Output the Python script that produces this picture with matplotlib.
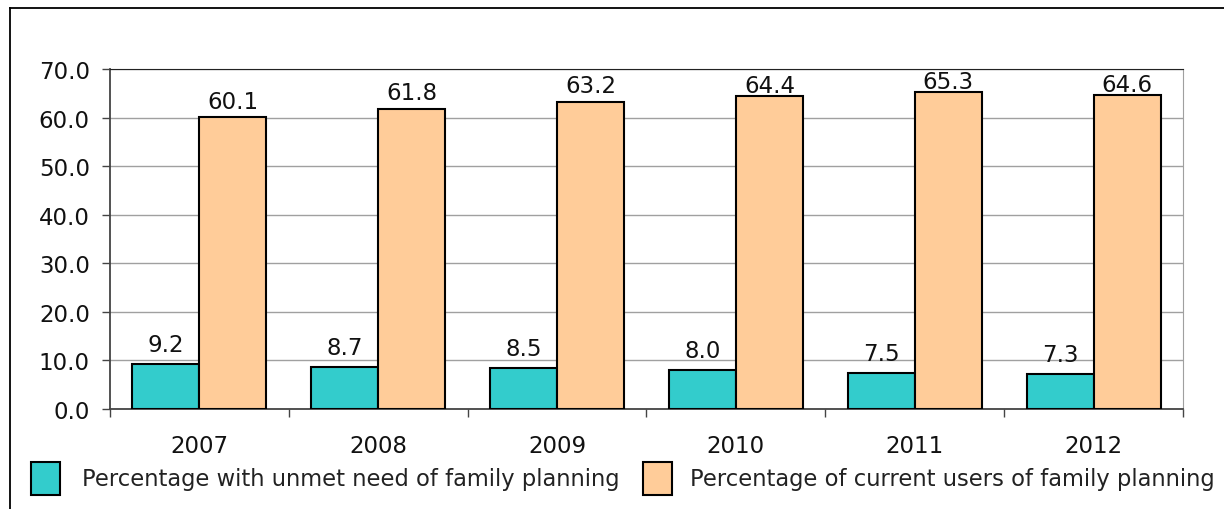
import matplotlib.pyplot as plt
import numpy as np
from matplotlib.patches import Rectangle
from matplotlib.lines import Line2D

years = ["2007", "2008", "2009", "2010", "2011", "2012"]
unmet_need = [9.2, 8.7, 8.5, 8.0, 7.5, 7.3]
current_users = [60.1, 61.8, 63.2, 64.4, 65.3, 64.6]
series_names = ["Percentage with unmet need of family planning",
                "Percentage of current users of family planning"]

teal = "#33CCCC"
peach = "#FFCC99"
num_size = 16.5
text_size = 16.3

plt.rcParams["font.family"] = ["DejaVu Sans"]

fig = plt.figure(figsize=(12.24, 5.1), dpi=100)
W, H = 1224, 510

# outer frame (only top and left edges visible in the crop)
fig.add_artist(Line2D([10 / W, 1.05], [1 - 9 / H, 1 - 9 / H], transform=fig.transFigure,
                      color="black", linewidth=1.3))
fig.add_artist(Line2D([10 / W, 10 / W], [-0.05, 1 - 9 / H], transform=fig.transFigure,
                      color="black", linewidth=1.3))

ax = fig.add_axes([110 / W, 1 - 410 / H, (1183 - 110) / W, (410 - 70) / H])

x = np.arange(len(years))
w = 0.375
ax.bar(x - w / 2, unmet_need, w, color=teal, edgecolor="black", linewidth=1.5, zorder=3)
ax.bar(x + w / 2, current_users, w, color=peach, edgecolor="black", linewidth=1.5, zorder=3)

# gaps (px) between bar top and label baseline, as placed in the original
gap_teal = 13
gap_peach = [9, 10, 10, 4, 4, 4]
for i in range(len(years)):
    ax.annotate(f"{unmet_need[i]:.1f}", (x[i] - w / 2, unmet_need[i]),
                xytext=(0, gap_teal * 0.72), textcoords="offset points",
                ha="center", va="baseline", fontsize=num_size, color="#111111")
    ax.annotate(f"{current_users[i]:.1f}", (x[i] + w / 2, current_users[i]),
                xytext=(0, gap_peach[i] * 0.72), textcoords="offset points",
                ha="center", va="baseline", fontsize=num_size, color="#111111")

ax.set_xlim(-0.5, len(years) - 0.5)
ax.set_ylim(0, 70)
ax.set_yticks(np.arange(0, 71, 10))
ax.set_yticklabels([f"{v:.1f}" for v in np.arange(0, 71, 10)], fontsize=num_size,
                   color="#111111")
ax.yaxis.grid(True, color="#a0a0a0", linewidth=1, zorder=0)

# ticks at category boundaries, labels centered
ax.set_xticks(np.arange(-0.5, len(years), 1))
ax.set_xticklabels([])
ax.set_xticks(x, minor=True)
ax.set_xticklabels(years, minor=True, fontsize=num_size, color="#111111")
ax.tick_params(axis="x", which="minor", length=0, pad=18)
ax.tick_params(axis="x", which="major", length=6, width=1, color="#444444")
ax.tick_params(axis="y", length=5.5, width=1, color="#444444", pad=9)

ax.spines["top"].set_color("#222222")
ax.spines["right"].set_color("#a0a0a0")
for side in ["left", "bottom"]:
    ax.spines[side].set_color("#444444")
    ax.spines[side].set_linewidth(1.3)

# legend drawn manually to match positions
for (sx, tx), color, name in zip([(31, 82), (643, 690)], [teal, peach], series_names):
    fig.add_artist(Rectangle((sx / W, 1 - 496 / H), 29 / W, 33 / H, transform=fig.transFigure,
                             facecolor=color, edgecolor="black", linewidth=1.5))
    fig.text(tx / W, 1 - 480 / H, name, ha="left", va="center", fontsize=text_size,
             color="#222222")

fig.savefig("out.png", dpi=100)
